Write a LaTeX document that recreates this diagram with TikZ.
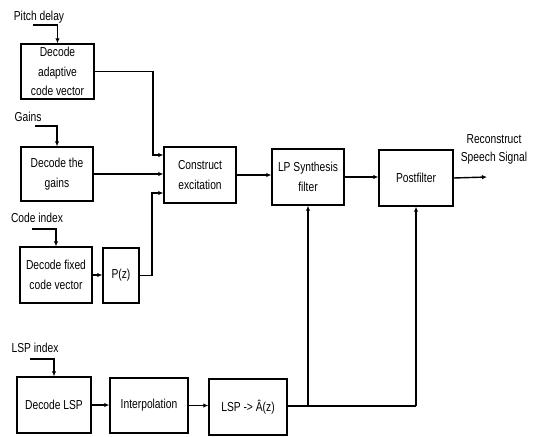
\documentclass[tikz,border=0pt]{standalone}
\usepackage{fontspec}
\setmainfont{Liberation Sans}[FakeStretch=0.79]
\usetikzlibrary{arrows.meta}
\begin{document}
\begin{tikzpicture}[x=1pt,y=-1pt,
  blk/.style={draw,line width=1.4pt,align=center,inner sep=1pt,font=\fontsize{13}{19.5}\selectfont},
  lbl/.style={font=\fontsize{13}{18}\selectfont,inner sep=0pt,align=center},
  arr/.style={line width=1.4pt,-{Latex[length=5pt,width=4.5pt]}},
  ln/.style={line width=1.4pt}]
\useasboundingbox (0,0) rectangle (537,436);
% blocks
\node[blk,minimum width=73pt,minimum height=55pt] (adapt) at (57.5,71.5) {Decode\\adaptive\\code vector};
\node[blk,minimum width=72pt,minimum height=54pt] (gains) at (57,174) {Decode the\\gains};
\node[blk,minimum width=72pt,minimum height=56pt] (fixed) at (56,275) {Decode fixed\\code vector};
\node[blk,minimum width=36pt,minimum height=55pt] (pz) at (121,275.5) {P(z)};
\node[blk,minimum width=72pt,minimum height=56pt] (constr) at (200,175) {Construct\\excitation};
\node[blk,minimum width=72pt,minimum height=56pt] (lps) at (308,177) {LP Synthesis\\filter};
\node[blk,minimum width=74pt,minimum height=56pt] (post) at (416,178) {Postfilter};
\node[blk,minimum width=74pt,minimum height=56pt] (dlsp) at (54,405) {Decode LSP};
\node[blk,minimum width=78pt,minimum height=55pt] (interp) at (149,405.5) {Interpolation};
\node[blk,minimum width=78pt,minimum height=56pt] (lspa) at (248,407) {LSP -> Â(z)};
% labels
\node[lbl] (tpitch) at (39,17) {Pitch delay};
\node[lbl] (tgains) at (28,117) {Gains};
\node[lbl] (tcode) at (37,218) {Code index};
\node[lbl] (tlsp) at (35,348) {LSP index};
\node[lbl] (tout) at (494,149) {Reconstruct\\Speech Signal};
% coordinates
\coordinate (cp) at (33,25);
\coordinate (cg) at (35,126);
\coordinate (cc) at (32,229);
\coordinate (cl) at (30,359);
\coordinate (j1) at (153,155);
\coordinate (j3) at (152,193);
\coordinate (out) at (487,177);
\coordinate (b1) at (308,406);
\coordinate (b2) at (416,406);
% inputs
\draw[arr] (cp) -| (adapt.north);
\draw[arr] (cg) -| (gains.north);
\draw[arr] (cc) -| (fixed.north);
\draw[arr] (cl) -| (dlsp.north);
% excitation
\draw[arr] (adapt.east) -| (j1) -- (j1 -| constr.west);
\draw[arr] (gains.east) -- (gains.east -| constr.west);
\draw[arr] (fixed.east) -- (fixed.east -| pz.west);
\draw[arr] (pz.east) -| (j3) -- (j3 -| constr.west);
\draw[arr] (constr.east) -- (constr.east -| lps.west);
\draw[arr] (lps.east) -- (lps.east -| post.west);
\draw[arr] (post.east) -- (out);
% LSP path
\draw[arr] (dlsp.east) -- (dlsp.east -| interp.west);
\draw[arr] (interp.east) -- (interp.east -| lspa.west);
\draw[ln] (lspa.east |- b1) -- (b2);
\draw[arr] (b1) -- (lps.south);
\draw[arr] (b2) -- (post.south);
\end{tikzpicture}
\end{document}
